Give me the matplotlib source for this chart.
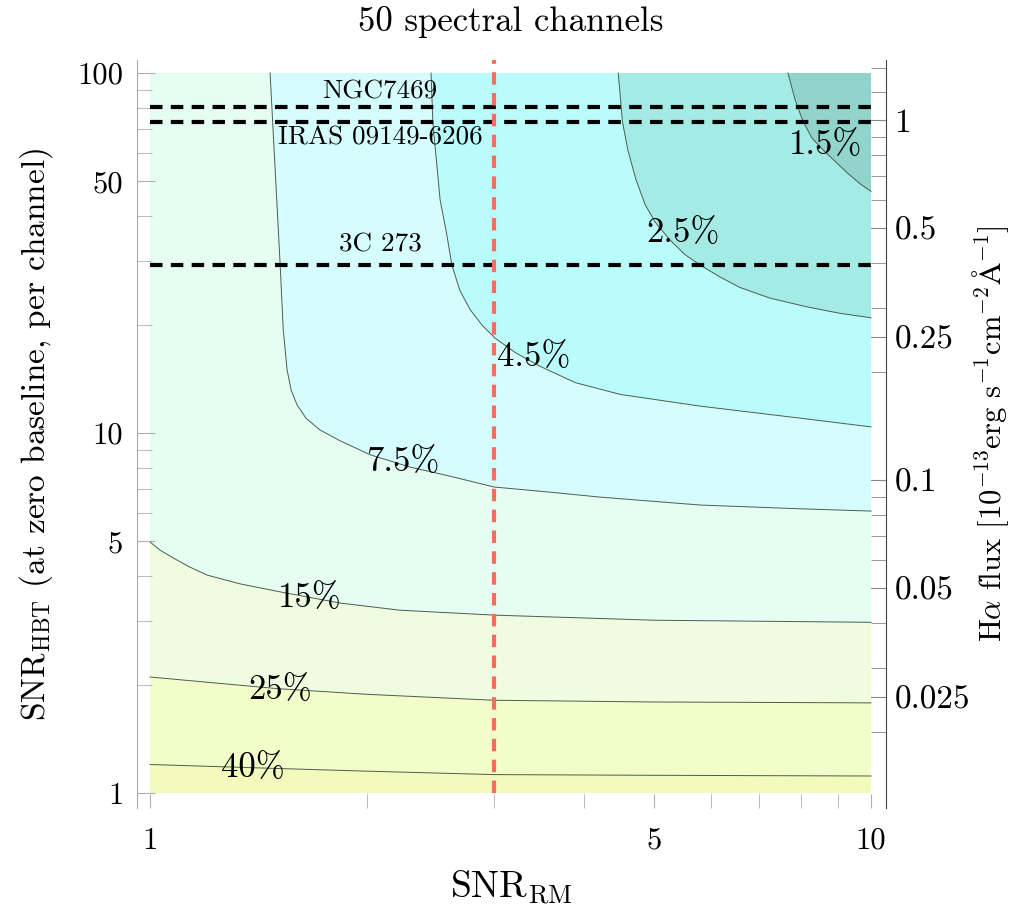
import matplotlib
matplotlib.use('Agg')
import matplotlib.pyplot as plt
from matplotlib.ticker import FixedLocator, NullFormatter

plt.rcParams['font.family'] = 'cmr10'
plt.rcParams['mathtext.fontset'] = 'cm'
plt.rcParams['axes.formatter.use_mathtext'] = True
plt.rcParams['axes.unicode_minus'] = False

# contour curves (SNR_RM, SNR_HBT)
c40_x = [1.0, 1.5, 2.0, 3.0, 5.0, 10.0]
c40_y = [1.20, 1.17, 1.15, 1.125, 1.12, 1.115]

c25_x = [1.0, 1.5, 2.0, 3.0, 5.0, 10.0]
c25_y = [2.10, 1.95, 1.88, 1.81, 1.79, 1.78]

c15_x = [1.0, 1.032, 1.076, 1.136, 1.2, 1.333, 1.515, 1.835, 2.22, 3.0, 5.0, 10.0]
c15_y = [4.98, 4.73, 4.50, 4.24, 4.03, 3.81, 3.62, 3.37, 3.22, 3.12, 3.02, 2.98]

c7_x = [1.467, 1.515, 1.530, 1.549, 1.569, 1.599, 1.645, 1.720, 1.834, 2.02, 2.295,
        2.605, 3.0, 3.59, 4.2, 5.79, 7.96, 10.0]
c7_y = [100, 29.3, 19.35, 14.96, 13.16, 11.97, 11.0, 10.2, 9.52, 8.70, 8.04,
        7.59, 7.08, 6.85, 6.64, 6.31, 6.16, 6.07]

c4_x = [2.453, 2.467, 2.525, 2.573, 2.622, 2.689, 2.78, 2.886, 3.01, 3.21, 3.47,
        3.89, 4.49, 5.79, 7.97, 10.0]
c4_y = [100, 73.0, 44.4, 36.6, 29.3, 24.9, 22.0, 19.95, 18.35, 16.73, 15.34,
        13.8, 12.8, 11.88, 11.0, 10.4]

c2_x = [4.46, 4.52, 4.60, 4.72, 4.86, 5.02, 5.26, 5.52, 5.79, 6.18, 6.57, 7.24,
        8.16, 9.06, 10.0]
c2_y = [100, 73.3, 61.0, 50.6, 43.1, 38.5, 34.4, 31.3, 29.3, 27.1, 25.4, 23.7,
        22.4, 21.5, 20.9]

c1_x = [7.67, 7.85, 8.05, 8.28, 8.59, 8.92, 9.27, 9.65, 10.0]
c1_y = [100, 84.0, 73.3, 66.0, 61.0, 56.8, 52.8, 49.3, 46.9]

contour_x = [c40_x, c25_x, c15_x, c7_x, c4_x, c2_x, c1_x]
contour_y = [c40_y, c25_y, c15_y, c7_y, c4_y, c2_y, c1_y]
contour_labels = ['40%', '25%', '15%', '7.5%', '4.5%', '2.5%', '1.5%']
label_x = [1.39, 1.515, 1.667, 2.24, 3.40, 5.49, 8.66]
label_y = [1.17, 1.93, 3.48, 8.30, 16.2, 36.0, 62.9]

# region colours, from lowest (worst) to highest
fill_colors = ['#f2fbbc', '#f3fdca', '#effcdf', '#e5fdf3', '#d6fdfd',
               '#bafcfb', '#a4ebe5', '#90d4cc']

# sources
src_names = ['NGC7469', 'IRAS 09149-6206', '3C 273']
src_snr = [80.5, 73.0, 29.3]
src_label_y = [88.8, 66.0, 33.3]
src_label_x = 2.085

snr_rm_target = 3.0
flux_per_snr = 1 / 74.0

x_range = [1, 10]
y_range = [1, 100]

fig = plt.figure(figsize=(10.13, 9.19), dpi=100)
ax = fig.add_axes([137 / 1013, 111 / 919, 749 / 1013, 748 / 919])
ax.set_xscale('log')
ax.set_yscale('log')
ax.set_xlim(0.959, 10.49)
ax.set_ylim(0.9086, 108.7)

# filled regions, painted from the bottom up
ax.fill_between(x_range, y_range[0], y_range[1], color=fill_colors[0], lw=0, zorder=1)
for i in range(len(contour_x)):
    xs = list(contour_x[i])
    ys = list(contour_y[i])
    px = xs + [x_range[1]]
    py = ys + [y_range[1]]
    if xs[0] == x_range[0]:
        px = px + [x_range[0]]
        py = py + [y_range[1]]
    ax.fill(px, py, color=fill_colors[i + 1], lw=0, zorder=1 + i * 0.01)
for i in range(len(contour_x)):
    ax.plot(contour_x[i], contour_y[i], color='#4d5d4d', lw=0.7, zorder=2)
    ax.text(label_x[i], label_y[i], contour_labels[i],
            ha='center', va='center', fontsize=25, zorder=5)

# source lines
for name, s, ly in zip(src_names, src_snr, src_label_y):
    ax.hlines(s, x_range[0], x_range[1], colors='black', linestyles=(0, (3, 2)), lw=3, zorder=3)
    ax.text(src_label_x, ly, name, ha='center', va='center', fontsize=19.5, zorder=5)

ax.vlines(snr_rm_target, y_range[0], 108.7, colors='#f07060', linestyles=(0, (3, 2)), lw=3, zorder=4)

# axes styling
for side in ['top', 'bottom', 'right']:
    ax.spines[side].set_visible(False)
ax.spines['left'].set_color('#aaaaaa')
ax.xaxis.set_major_locator(FixedLocator([1, 5, 10]))
ax.xaxis.set_minor_locator(FixedLocator([2, 3, 4, 6, 7, 8, 9]))
ax.set_xticklabels(['1', '5', '10'])
ax.xaxis.set_minor_formatter(NullFormatter())
ax.yaxis.set_major_locator(FixedLocator([1, 5, 10, 50, 100]))
ax.yaxis.set_minor_locator(FixedLocator([2, 3, 4, 6, 7, 8, 9, 20, 30, 40, 60, 70, 80, 90]))
ax.set_yticklabels(['1', '5', '10', '50', '100'])
ax.yaxis.set_minor_formatter(NullFormatter())
ax.tick_params(axis='both', which='both', direction='in', color='#b0b0b0', labelsize=22)
ax.tick_params(axis='y', which='major', length=13, pad=10)
ax.tick_params(axis='y', which='minor', length=11)
ax.tick_params(axis='x', which='major', length=10, pad=14)
ax.tick_params(axis='x', which='minor', length=10)

ax.set_xlabel(r'$\mathrm{SNR}_{\mathrm{RM}}$', fontsize=27, labelpad=10)
ax.set_ylabel(r'$\mathrm{SNR}_{\mathrm{HBT}}$ (at zero baseline, per channel)', fontsize=24, labelpad=16)

sec = ax.secondary_yaxis('right', functions=(lambda y: y * flux_per_snr, lambda f: f / flux_per_snr))
sec.spines['right'].set_color('#444444')
sec.yaxis.set_major_locator(FixedLocator([0.025, 0.05, 0.1, 0.25, 0.5, 1]))
sec.yaxis.set_minor_locator(FixedLocator([0.02, 0.03, 0.04, 0.06, 0.07, 0.08, 0.09,
                                          0.2, 0.3, 0.4, 0.6, 0.7, 0.8, 0.9, 1.2, 1.4]))
sec.set_yticklabels(['0.025', '0.05', '0.1', '0.25', '0.5', '1'])
sec.yaxis.set_minor_formatter(NullFormatter())
sec.tick_params(which='both', direction='in', color='#888888', labelsize=24, pad=6)
sec.tick_params(which='major', length=13)
sec.tick_params(which='minor', length=11)
sec.set_ylabel(r'H$\alpha$ flux [$10^{-13}$erg s$^{-1}$cm$^{-2}\mathrm{\AA}^{-1}$]', fontsize=22, labelpad=0)

fig.text(511 / 1013, 1 - 22 / 919, '50 spectral channels', ha='center', va='center', fontsize=25)

fig.savefig('out.png', dpi=100, facecolor='white')
